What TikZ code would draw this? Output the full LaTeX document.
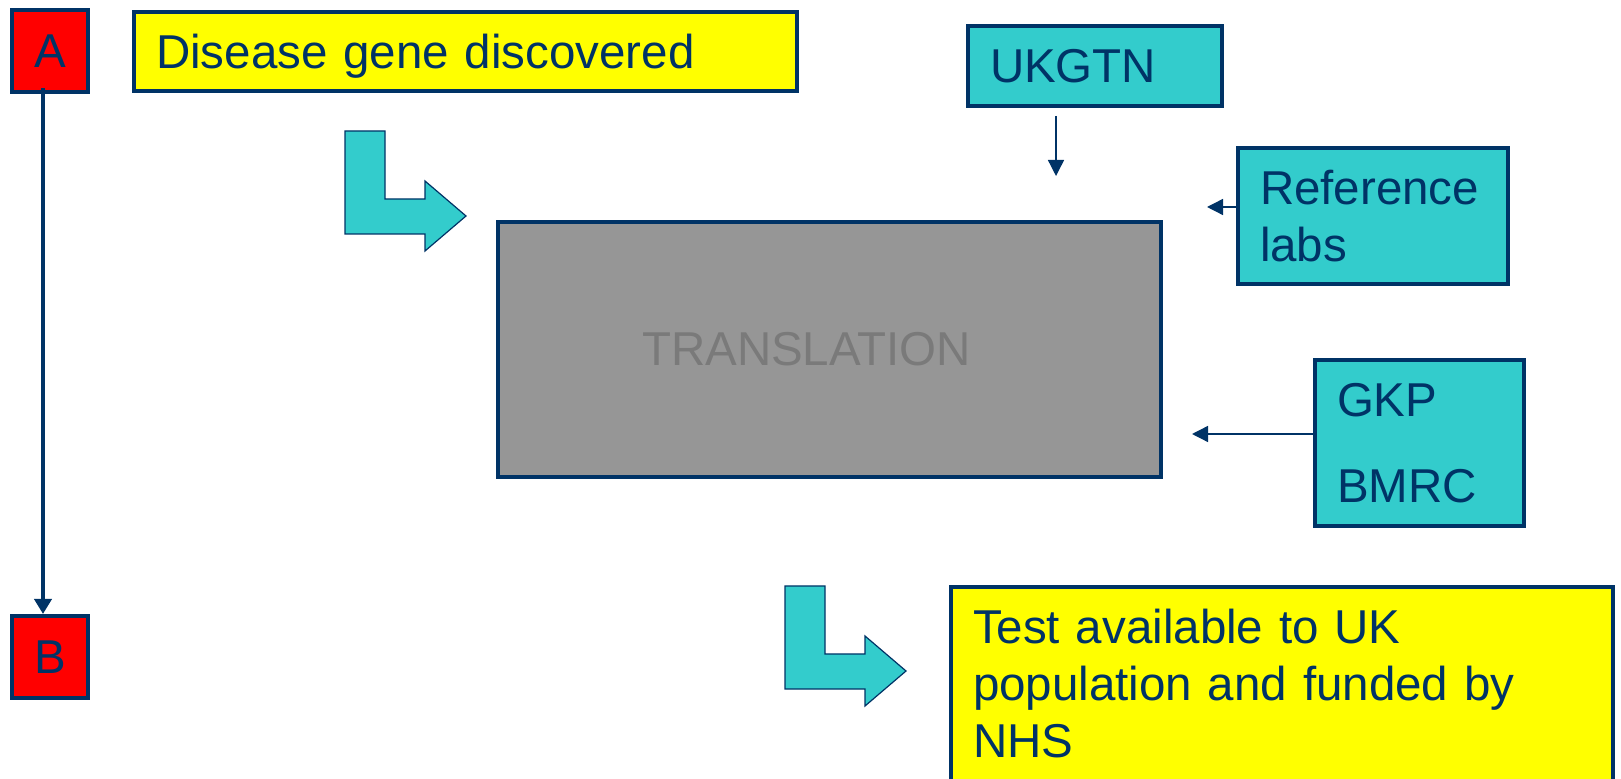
\documentclass[tikz,border=0pt]{standalone}
\usepackage{fontspec}
\setmainfont{Liberation Sans}
\usetikzlibrary{arrows.meta}
\definecolor{navy}{HTML}{003366}
\definecolor{aqua}{HTML}{33CCCC}
\definecolor{lemon}{HTML}{FFFF00}
\definecolor{scarlet}{HTML}{FF0000}
\definecolor{slate}{HTML}{969696}
\definecolor{inkgrey}{HTML}{7A7A7A}

\begin{document}
\begin{tikzpicture}[x=0.5pt, y=-0.5pt, font=\fontsize{23.75}{28.5}\selectfont,
      >={Triangle[length=8pt,width=8pt]},
      b/.style={draw=navy, line width=2pt, text=navy, align=left,
                inner xsep=11pt, inner ysep=0pt},
      tag/.style={draw=navy, fill=scarlet, line width=2pt, text=navy, inner sep=0pt,
                  minimum width=38pt, minimum height=41pt, text depth=0pt},
      turn/.pic={\draw[navy, fill=aqua, line width=0.6pt] (0,0) -- (40,0) -- (40,68)
                   -- (80,68) -- (80,50) -- (121,85) -- (80,120) -- (80,103) -- (0,103) -- cycle;}]
    \useasboundingbox (0,0) rectangle (1621,779);
    % start and end markers
    \node[tag] (A) at (50,51) {A};
    \node[tag] (B) at (50,657) {B};
    \draw[->, navy, line width=2.2pt, >={Triangle[length=7.5pt,width=8.5pt]}]
        ([xshift=-3.5pt,yshift=3pt]A.south) -- ([xshift=-3.5pt]B.north);
    % main path
    \node[b, fill=lemon, minimum height=39.5pt, text width=309.5pt, text depth=0pt] (dis)
        at (465.5,51.5) {Disease gene discovered};
    \node[b, fill=slate, minimum width=331.5pt, minimum height=127.5pt,
          label={[xshift=-11.5pt, text=inkgrey]center:TRANSLATION}] (trans) at (829.5,349.5) {};
    \node[b, fill=lemon, anchor=north west, inner ysep=11pt, text width=309pt, text depth=100pt] (nhs)
        at (949,585) {Test available to UK\\population and funded by\\NHS};
    \pic at (345,131) {turn};
    \pic at (785,586) {turn};
    % contributors
    \node[b, fill=aqua, minimum height=40pt, text width=105pt, text depth=0pt] (ukgtn)
        at (1095,66) {UKGTN};
    \node[b, fill=aqua, minimum height=68pt, text width=113pt] (ref) at (1373,216) {Reference\\labs};
    \node[b, fill=aqua, minimum height=83pt, text width=82.5pt] (gkp) at (1419.5,443) {GKP\\[14.5pt]BMRC};
    \coordinate (ukin) at (1056,176);
    \coordinate (refin) at (1207,207);
    \coordinate (gkpin) at (1192,434);
    \draw[->, navy, line width=0.7pt] ([xshift=-19.5pt,yshift=-4pt]ukgtn.south) -- (ukin);
    \draw[->, navy, line width=0.7pt] ([yshift=4.5pt]ref.west) -- (refin);
    \draw[->, navy, line width=0.7pt] ([yshift=4.5pt]gkp.west) -- (gkpin);
  \end{tikzpicture}
\end{document}
